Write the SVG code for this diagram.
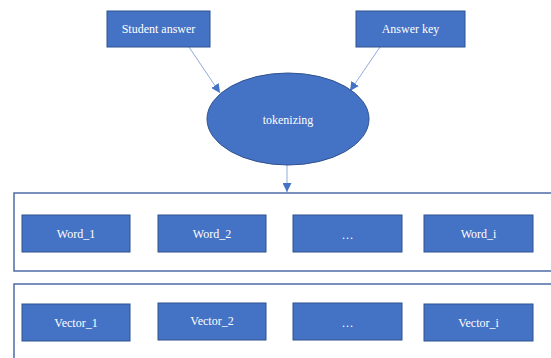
<svg xmlns="http://www.w3.org/2000/svg" width="551" height="358" viewBox="0 0 551 358">
<style>
.box{fill:#4472C4;stroke:#2F528F;stroke-width:1}
.frame{fill:none;stroke:#4E6BA6;stroke-width:1.5}
text{font-family:'Liberation Serif','Times New Roman',serif}
.lbl{font-size:12px;fill:#FFFFFF;text-anchor:middle}
.conn{stroke:#8FAADC;stroke-width:1;fill:none}
</style>
<defs>
<marker id="ah" viewBox="0 0 10 10" refX="10" refY="5" markerWidth="9" markerHeight="9" markerUnits="userSpaceOnUse" orient="auto">
<path d="M0,0 L10,5 L0,10 z" fill="#4472C4"/>
</marker>
</defs>
<rect x="0" y="0" width="551" height="358" fill="#FFFFFF"/>
<g id="frame_words"><rect class="frame" x="14" y="193" width="560" height="78"/></g>
<g id="frame_vectors"><rect class="frame" x="14" y="284" width="560" height="100"/></g>
<g id="connectors">
<line class="conn" x1="189" y1="47" x2="220" y2="93" marker-end="url(#ah)"/>
<line class="conn" x1="380" y1="47" x2="350" y2="91" marker-end="url(#ah)"/>
<line class="conn" x1="287" y1="164" x2="287" y2="192" marker-end="url(#ah)"/>
</g>
<g id="student"><rect class="box" x="107" y="11" width="103" height="36"/><text class="lbl" font-family="Liberation Serif, serif" x="158.5" y="33">Student answer</text></g>
<g id="key"><rect class="box" x="356" y="11" width="109" height="36"/><text class="lbl" font-family="Liberation Serif, serif" x="410.5" y="33">Answer key</text></g>
<g id="tokenizing"><ellipse class="box" cx="288" cy="119" rx="81" ry="46"/><text class="lbl" font-family="Liberation Serif, serif" x="288" y="124">tokenizing</text></g>
<g id="word1"><rect class="box" x="22" y="215" width="108" height="37"/><text class="lbl" font-family="Liberation Serif, serif" x="76" y="238">Word_1</text></g>
<g id="word2"><rect class="box" x="158" y="215" width="108" height="37"/><text class="lbl" font-family="Liberation Serif, serif" x="212" y="238">Word_2</text></g>
<g id="word3"><rect class="box" x="293" y="215" width="109" height="37"/><text class="lbl" font-family="Liberation Serif, serif" x="347.5" y="239">…</text></g>
<g id="wordi"><rect class="box" x="424" y="215" width="109" height="37"/><text class="lbl" font-family="Liberation Serif, serif" x="478.5" y="238">Word_i</text></g>
<g id="vec1"><rect class="box" x="22" y="304" width="108" height="37"/><text class="lbl" font-family="Liberation Serif, serif" x="76" y="327">Vector_1</text></g>
<g id="vec2"><rect class="box" x="158" y="303" width="108" height="37"/><text class="lbl" font-family="Liberation Serif, serif" x="212" y="325">Vector_2</text></g>
<g id="vec3"><rect class="box" x="293" y="303" width="109" height="37"/><text class="lbl" font-family="Liberation Serif, serif" x="347.5" y="327">…</text></g>
<g id="veci"><rect class="box" x="424" y="304" width="109" height="37"/><text class="lbl" font-family="Liberation Serif, serif" x="478.5" y="327">Vector_i</text></g>
</svg>
